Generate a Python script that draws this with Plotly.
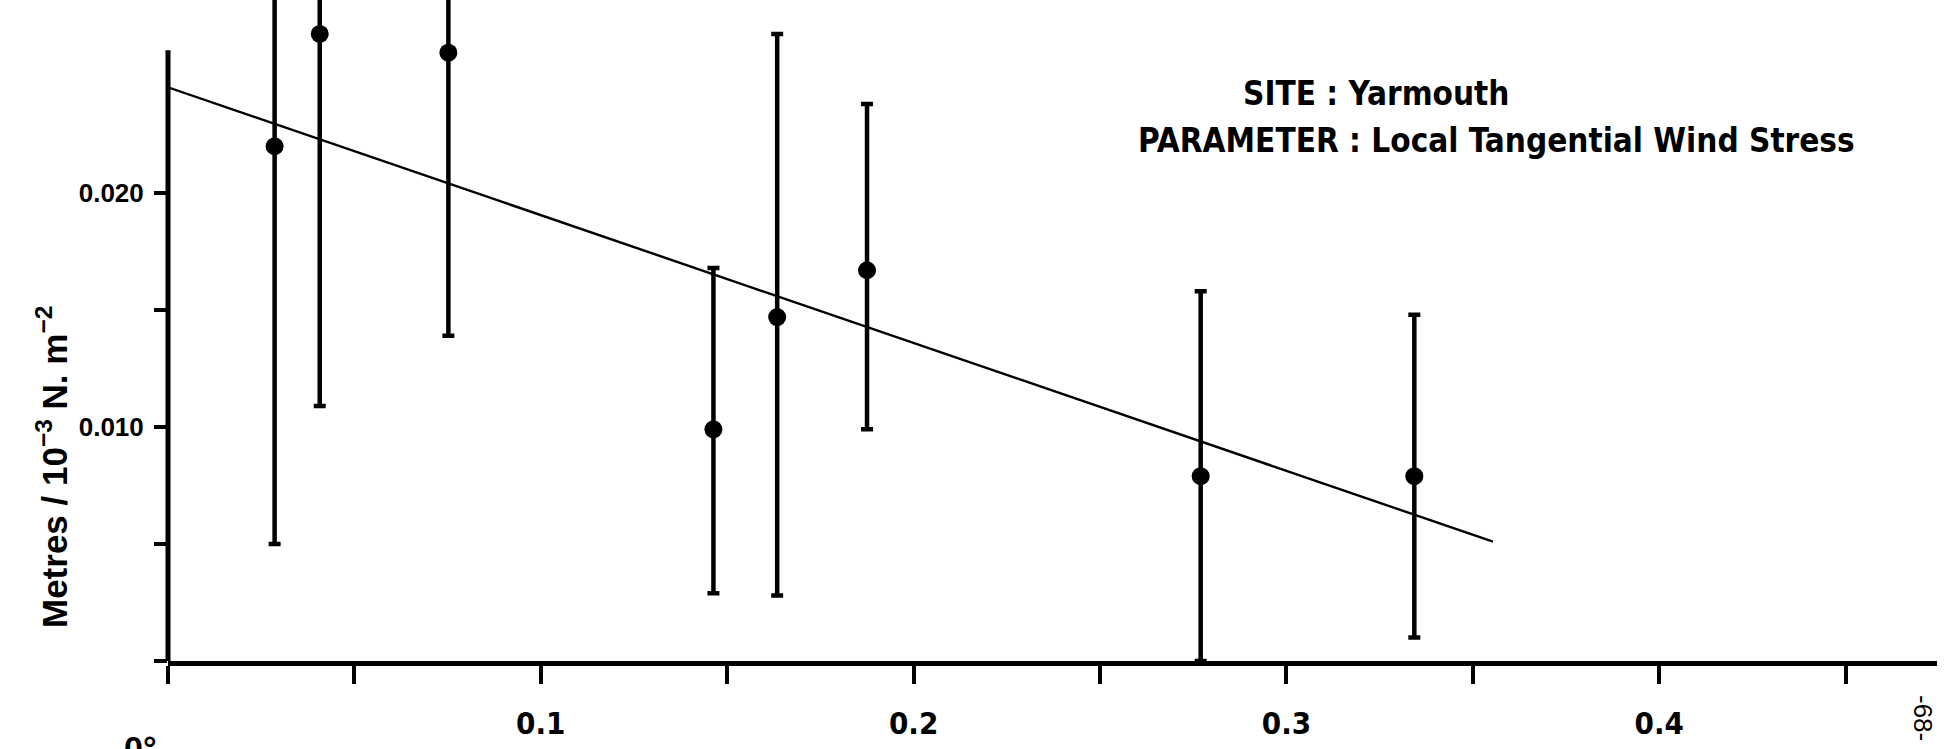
import plotly.graph_objects as go

# ---- data ----
x_vals = [0.0286, 0.0407, 0.0752, 0.1463, 0.1634, 0.1875, 0.2770, 0.3343]
y_vals = [0.0220, 0.0268, 0.0260, 0.0099, 0.0147, 0.0167, 0.0079, 0.0079]
y_low = [0.0050, 0.0109, 0.0139, 0.0029, 0.0028, 0.0099, 0.0000, 0.0010]
y_high = [0.0390, 0.0430, 0.0380, 0.0168, 0.0268, 0.0238, 0.0158, 0.0148]

fit_x = [0.0, 0.3554]
fit_y = [0.02452, 0.00510]

x_tickvals = [0.0, 0.05, 0.1, 0.15, 0.2, 0.25, 0.3, 0.35, 0.4, 0.45]
x_ticktext = ["", "", "0.1", "", "0.2", "", "0.3", "", "0.4", ""]
y_tickvals = [0.0, 0.005, 0.010, 0.015, 0.020]
y_ticktext = ["", "", "0.010", "", "0.020"]

X_RANGE = [0.0, 0.4745]
Y_RANGE = [0.0, 0.02825]
Y_AXIS_TOP = 0.0261

site_text = "SITE : Yarmouth"
param_text = "PARAMETER : Local Tangential Wind Stress"
y_title = "Metres / 10<sup>−3</sup> N. m<sup>−2</sup>"
page_no = "-68-"

W, H = 1952, 749
L, R, T, B = 168, 15, 0, 88
PW, PH = W - L - R, H - T - B


def px(xp):
    return (xp - L) / PW


def py(yp):
    return (H - B - yp) / PH


err_plus = [h - y for h, y in zip(y_high, y_vals)]
err_minus = [y - l for y, l in zip(y_vals, y_low)]

fig = go.Figure()

fig.add_trace(go.Scatter(
    x=fit_x, y=fit_y, mode="lines",
    line=dict(color="black", width=2.4),
    showlegend=False, hoverinfo="skip",
))

fig.add_trace(go.Scatter(
    x=x_vals, y=y_vals, mode="markers",
    marker=dict(color="black", size=18, symbol="circle"),
    error_y=dict(type="data", symmetric=False, array=err_plus,
                 arrayminus=err_minus, color="black", thickness=4.5, width=6),
    showlegend=False,
))

# y axis line (stops below the top of the page)
fig.add_shape(type="line", xref="paper", yref="y", x0=0, x1=0, y0=0, y1=Y_AXIS_TOP,
              line=dict(color="black", width=5), layer="above")

fig.update_xaxes(
    range=X_RANGE, showgrid=False, zeroline=False,
    showline=True, linecolor="black", linewidth=5,
    ticks="outside", ticklen=18, tickwidth=4, tickcolor="black",
    tickvals=x_tickvals, ticktext=x_ticktext,
    tickfont=dict(family="Liberation Sans Narrow, DejaVu Sans Condensed, Arial", size=31, color="black", weight="bold"),
    ticklabelstandoff=13,
)
fig.update_yaxes(
    range=Y_RANGE, showgrid=False, zeroline=False, showline=False,
    ticks="outside", ticklen=13, tickwidth=4, tickcolor="black",
    tickvals=y_tickvals, ticktext=y_ticktext,
    tickfont=dict(family="Liberation Sans, Arial", size=26, color="black", weight="bold"),
    ticklabelstandoff=5,
)

ann_font = dict(family="Liberation Sans Narrow, DejaVu Sans Condensed, Arial Narrow", size=33, color="black", weight="bold")

annotations = [
    dict(text=site_text, x=px(1376), y=py(93), xref="paper", yref="paper",
         showarrow=False, font=ann_font, xanchor="center", yanchor="middle"),
    dict(text=param_text, x=px(1496), y=py(141), xref="paper", yref="paper",
         showarrow=False, font=ann_font, xanchor="center", yanchor="middle"),
    dict(text=y_title, x=px(52), y=py(467), xref="paper", yref="paper",
         showarrow=False, textangle=-90, xanchor="center", yanchor="middle",
         font=dict(family="Liberation Sans, Arial", size=35, color="black", weight="bold")),
    dict(text="0°", x=px(140), y=py(727), xref="paper", yref="paper",
         showarrow=False, xanchor="center", yanchor="top",
         font=dict(family="Liberation Sans, Arial", size=34, color="black", weight="bold")),
    dict(text=page_no, x=px(1923), y=py(718), xref="paper", yref="paper",
         showarrow=False, textangle=90, xanchor="center", yanchor="middle",
         font=dict(family="Liberation Sans, Arial", size=26, color="black")),
]

fig.update_layout(
    width=W, height=H,
    margin=dict(l=L, r=R, t=T, b=B, pad=0),
    paper_bgcolor="white", plot_bgcolor="white",
    annotations=annotations,
)

fig.write_html("out.html", config={"displayModeBar": False},
               post_script="document.body.style.margin='0px';document.body.style.overflow='hidden';")
